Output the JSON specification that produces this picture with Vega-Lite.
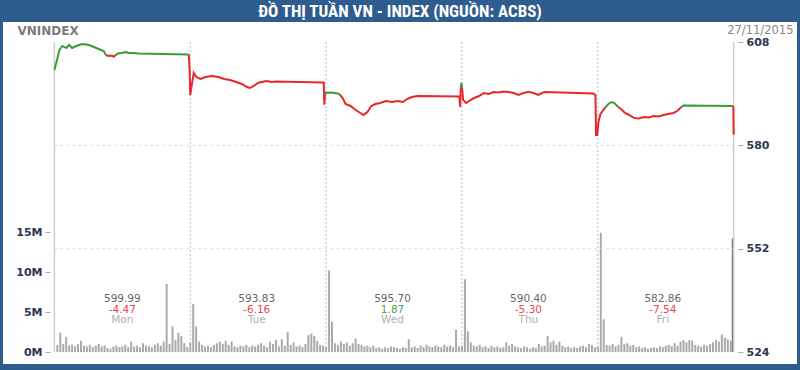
{
  "$schema": "https://vega.github.io/schema/vega-lite/v6.json",
  "autosize": {"type": "none"},
  "padding": {"left": 3, "top": 22, "right": 3, "bottom": 6},
  "width": 794,
  "height": 342,
  "background": "#2f5c8f",
  "config": {"view": {"stroke": null, "fill": "white"}},
  "title": {"text": "ĐỒ THỊ TUẦN VN - INDEX (NGUỒN: ACBS)", "color": "white", "font": "Liberation Sans Narrow, Roboto Condensed, Liberation Sans", "fontSize": 17, "fontWeight": "bold", "anchor": "middle", "baseline": "middle", "offset": -7},
  "datasets": {
    "vol": [
      {"k":1,"v":0.9},{"k":2,"v":2.4},{"k":3,"v":1.0},{"k":4,"v":1.9},{"k":5,"v":0.8},{"k":6,"v":0.9},{"k":7,"v":0.7},{"k":8,"v":1.0},{"k":9,"v":1.4},{"k":10,"v":0.8},
      {"k":11,"v":0.7},{"k":12,"v":0.9},{"k":13,"v":0.6},{"k":14,"v":0.8},{"k":15,"v":1.0},{"k":16,"v":0.7},{"k":17,"v":0.8},{"k":18,"v":0.5},{"k":19,"v":0.4},{"k":20,"v":0.7},
      {"k":21,"v":0.8},{"k":22,"v":0.6},{"k":23,"v":0.7},{"k":24,"v":0.9},{"k":25,"v":0.6},{"k":26,"v":1.3},{"k":27,"v":0.7},{"k":28,"v":0.8},{"k":29,"v":0.6},{"k":30,"v":1.1},
      {"k":31,"v":0.8},{"k":32,"v":0.7},{"k":33,"v":0.6},{"k":34,"v":0.9},{"k":35,"v":1.1},{"k":36,"v":0.8},{"k":37,"v":1.3},{"k":38,"v":8.5},{"k":39,"v":1.0},{"k":40,"v":3.2},
      {"k":41,"v":1.5},{"k":42,"v":2.4},{"k":43,"v":2.0},{"k":44,"v":1.1},{"k":45,"v":0.6},
      {"k":46,"v":1.2},{"k":47,"v":6.0},{"k":48,"v":3.2},{"k":49,"v":1.3},{"k":50,"v":0.9},{"k":51,"v":0.7},{"k":52,"v":0.8},{"k":53,"v":0.6},{"k":54,"v":0.9},{"k":55,"v":1.1},
      {"k":56,"v":1.3},{"k":57,"v":1.0},{"k":58,"v":1.4},{"k":59,"v":0.9},{"k":60,"v":1.3},{"k":61,"v":0.7},{"k":62,"v":0.6},{"k":63,"v":0.8},{"k":64,"v":0.7},{"k":65,"v":0.9},
      {"k":66,"v":0.6},{"k":67,"v":0.8},{"k":68,"v":0.7},{"k":69,"v":0.9},{"k":70,"v":1.1},{"k":71,"v":0.8},{"k":72,"v":0.6},{"k":73,"v":1.3},{"k":74,"v":1.0},{"k":75,"v":1.5},
      {"k":76,"v":0.7},{"k":77,"v":1.6},{"k":78,"v":0.8},{"k":79,"v":2.5},{"k":80,"v":0.9},{"k":81,"v":1.2},{"k":82,"v":0.7},{"k":83,"v":0.8},{"k":84,"v":0.6},{"k":85,"v":1.0},
      {"k":86,"v":2.1},{"k":87,"v":2.3},{"k":88,"v":2.0},{"k":89,"v":1.4},{"k":90,"v":0.9},{"k":91,"v":0.8},
      {"k":92,"v":0.6},{"k":93,"v":10.2},{"k":94,"v":3.8},{"k":95,"v":1.1},{"k":96,"v":0.9},{"k":97,"v":1.3},{"k":98,"v":1.0},{"k":99,"v":1.2},{"k":100,"v":0.8},{"k":101,"v":1.1},
      {"k":102,"v":1.7},{"k":103,"v":1.0},{"k":104,"v":0.9},{"k":105,"v":0.7},{"k":106,"v":0.8},{"k":107,"v":0.6},{"k":108,"v":0.8},{"k":109,"v":0.5},{"k":110,"v":0.6},{"k":111,"v":0.4},
      {"k":112,"v":0.6},{"k":113,"v":0.5},{"k":114,"v":0.7},{"k":115,"v":0.6},{"k":116,"v":0.5},{"k":117,"v":0.4},{"k":118,"v":0.6},{"k":119,"v":0.5},{"k":120,"v":1.6},{"k":121,"v":0.6},
      {"k":122,"v":0.7},{"k":123,"v":0.5},{"k":124,"v":0.8},{"k":125,"v":0.6},{"k":126,"v":0.9},{"k":127,"v":0.7},{"k":128,"v":0.6},{"k":129,"v":0.8},{"k":130,"v":0.7},{"k":131,"v":0.6},
      {"k":132,"v":0.9},{"k":133,"v":0.7},{"k":134,"v":0.8},{"k":135,"v":0.6},{"k":136,"v":2.8},{"k":137,"v":0.7},
      {"k":138,"v":0.8},{"k":139,"v":9.1},{"k":140,"v":2.6},{"k":141,"v":1.2},{"k":142,"v":0.8},{"k":143,"v":0.7},{"k":144,"v":0.9},{"k":145,"v":0.6},{"k":146,"v":0.7},{"k":147,"v":0.5},
      {"k":148,"v":0.8},{"k":149,"v":0.6},{"k":150,"v":0.7},{"k":151,"v":0.5},{"k":152,"v":0.6},{"k":153,"v":1.2},{"k":154,"v":0.8},{"k":155,"v":1.0},{"k":156,"v":0.7},{"k":157,"v":0.6},
      {"k":158,"v":0.5},{"k":159,"v":0.7},{"k":160,"v":0.6},{"k":161,"v":0.4},{"k":162,"v":0.6},{"k":163,"v":0.5},{"k":164,"v":1.0},{"k":165,"v":0.7},{"k":166,"v":0.8},{"k":167,"v":2.0},
      {"k":168,"v":1.2},{"k":169,"v":1.4},{"k":170,"v":0.9},{"k":171,"v":1.3},{"k":172,"v":0.8},{"k":173,"v":0.6},{"k":174,"v":0.7},{"k":175,"v":0.5},{"k":176,"v":0.6},{"k":177,"v":0.5},
      {"k":178,"v":0.7},{"k":179,"v":0.8},{"k":180,"v":0.6},{"k":181,"v":1.0},{"k":182,"v":0.9},{"k":183,"v":0.6},
      {"k":184,"v":0.7},{"k":185,"v":14.9},{"k":186,"v":4.1},{"k":187,"v":0.9},{"k":188,"v":0.8},{"k":189,"v":1.0},{"k":190,"v":0.7},{"k":191,"v":0.9},{"k":192,"v":1.9},{"k":193,"v":1.0},
      {"k":194,"v":1.1},{"k":195,"v":0.8},{"k":196,"v":0.9},{"k":197,"v":0.6},{"k":198,"v":0.7},{"k":199,"v":0.5},{"k":200,"v":0.6},{"k":201,"v":0.4},{"k":202,"v":0.5},{"k":203,"v":0.6},
      {"k":204,"v":0.5},{"k":205,"v":0.7},{"k":206,"v":0.6},{"k":207,"v":0.8},{"k":208,"v":0.9},{"k":209,"v":0.7},{"k":210,"v":1.1},{"k":211,"v":0.8},{"k":212,"v":1.3},{"k":213,"v":1.5},
      {"k":214,"v":1.2},{"k":215,"v":1.5},{"k":216,"v":1.4},{"k":217,"v":0.9},{"k":218,"v":0.8},{"k":219,"v":0.7},{"k":220,"v":0.9},{"k":221,"v":0.8},{"k":222,"v":1.0},{"k":223,"v":1.2},
      {"k":224,"v":1.5},{"k":225,"v":1.3},{"k":226,"v":2.2},{"k":227,"v":1.8},{"k":228,"v":1.6},{"k":229,"v":1.4},{"k":229.7,"v":14.2}
    ],
    "price": [
      {"k":0,"p":600.41,"s":1,"d":"up"},{"k":0.7,"p":602.58,"s":1,"d":"up"},{"k":1.7,"p":605.83,"s":1,"d":"up"},{"k":2.7,"p":606.92,"s":1,"d":"up"},{"k":4.0,"p":606.37,"s":1,"d":"up"},
      {"k":5.0,"p":607.19,"s":1,"d":"up"},{"k":6.0,"p":606.37,"s":1,"d":"up"},{"k":7.4,"p":606.92,"s":1,"d":"up"},{"k":9.4,"p":607.46,"s":1,"d":"up"},{"k":11.7,"p":607.19,"s":1,"d":"up"},
      {"k":13.4,"p":606.64,"s":1,"d":"up"},{"k":15.0,"p":606.10,"s":1,"d":"up"},{"k":16.7,"p":605.56,"s":1,"d":"up"},{"k":17.4,"p":604.46,"s":1,"d":"up"},
      {"k":17.4,"p":604.46,"s":2,"d":"down"},{"k":18.4,"p":604.21,"s":2,"d":"down"},{"k":19.4,"p":604.34,"s":2,"d":"down"},{"k":20.1,"p":604.0,"s":2,"d":"down"},{"k":20.7,"p":604.46,"s":2,"d":"down"},
      {"k":20.7,"p":604.46,"s":3,"d":"up"},{"k":21.5,"p":604.9,"s":3,"d":"up"},{"k":22.7,"p":605.02,"s":3,"d":"up"},{"k":24.1,"p":605.29,"s":3,"d":"up"},{"k":25.1,"p":605.02,"s":3,"d":"up"},
      {"k":26.7,"p":605.02,"s":3,"d":"up"},{"k":28.4,"p":604.88,"s":3,"d":"up"},{"k":45.5,"p":604.61,"s":3,"d":"up"},
      {"k":45.5,"p":604.61,"s":4,"d":"down"},{"k":45.8,"p":599.99,"s":4,"d":"down"},{"k":46.0,"p":593.64,"s":4,"d":"down"},{"k":46.5,"p":596.35,"s":4,"d":"down"},{"k":47.2,"p":599.60,"s":4,"d":"down"},
      {"k":48.1,"p":598.51,"s":4,"d":"down"},{"k":49.5,"p":597.97,"s":4,"d":"down"},{"k":51.1,"p":598.51,"s":4,"d":"down"},{"k":53.5,"p":598.79,"s":4,"d":"down"},{"k":55.5,"p":598.51,"s":4,"d":"down"},
      {"k":57.5,"p":597.97,"s":4,"d":"down"},{"k":59.5,"p":597.70,"s":4,"d":"down"},{"k":61.5,"p":597.16,"s":4,"d":"down"},{"k":63.5,"p":596.62,"s":4,"d":"down"},{"k":65.2,"p":595.80,"s":4,"d":"down"},
      {"k":66.2,"p":595.53,"s":4,"d":"down"},{"k":67.5,"p":596.08,"s":4,"d":"down"},{"k":68.9,"p":596.89,"s":4,"d":"down"},{"k":70.2,"p":597.16,"s":4,"d":"down"},{"k":71.9,"p":597.43,"s":4,"d":"down"},
      {"k":73.5,"p":597.16,"s":4,"d":"down"},{"k":75.2,"p":597.30,"s":4,"d":"down"},{"k":90.9,"p":597.02,"s":4,"d":"down"},{"k":91.2,"p":597.0,"s":4,"d":"down"},{"k":91.4,"p":591.0,"s":4,"d":"down"},
      {"k":91.6,"p":593.83,"s":4,"d":"down"},
      {"k":91.6,"p":593.83,"s":5,"d":"up"},{"k":91.8,"p":594.18,"s":5,"d":"up"},{"k":93.6,"p":594.3,"s":5,"d":"up"},{"k":96.0,"p":594.04,"s":5,"d":"up"},{"k":96.6,"p":593.83,"s":5,"d":"up"},
      {"k":96.6,"p":593.83,"s":6,"d":"down"},{"k":97.6,"p":592.82,"s":6,"d":"down"},{"k":98.6,"p":591.20,"s":6,"d":"down"},{"k":100.3,"p":590.66,"s":6,"d":"down"},{"k":102.0,"p":589.57,"s":6,"d":"down"},
      {"k":103.6,"p":588.76,"s":6,"d":"down"},{"k":104.6,"p":588.22,"s":6,"d":"down"},{"k":106.0,"p":589.03,"s":6,"d":"down"},{"k":107.3,"p":590.66,"s":6,"d":"down"},{"k":108.7,"p":591.20,"s":6,"d":"down"},
      {"k":110.3,"p":591.47,"s":6,"d":"down"},{"k":112.3,"p":592.01,"s":6,"d":"down"},{"k":114.3,"p":591.74,"s":6,"d":"down"},{"k":116.3,"p":592.01,"s":6,"d":"down"},{"k":118.0,"p":591.74,"s":6,"d":"down"},
      {"k":119.4,"p":592.55,"s":6,"d":"down"},{"k":121.0,"p":593.09,"s":6,"d":"down"},{"k":123.0,"p":593.36,"s":6,"d":"down"},{"k":137.1,"p":593.23,"s":6,"d":"down"},{"k":137.4,"p":590.4,"s":6,"d":"down"},
      {"k":137.6,"p":595.70,"s":6,"d":"down"},
      {"k":137.6,"p":595.70,"s":7,"d":"up"},{"k":137.8,"p":596.9,"s":7,"d":"up"},{"k":138.0,"p":595.70,"s":7,"d":"up"},
      {"k":138.0,"p":595.70,"s":8,"d":"down"},{"k":138.4,"p":592.28,"s":8,"d":"down"},{"k":139.4,"p":591.47,"s":8,"d":"down"},{"k":140.4,"p":592.01,"s":8,"d":"down"},{"k":142.1,"p":592.82,"s":8,"d":"down"},
      {"k":143.8,"p":593.36,"s":8,"d":"down"},{"k":145.4,"p":594.18,"s":8,"d":"down"},{"k":147.1,"p":593.91,"s":8,"d":"down"},{"k":148.8,"p":594.45,"s":8,"d":"down"},{"k":150.4,"p":594.31,"s":8,"d":"down"},
      {"k":152.1,"p":594.59,"s":8,"d":"down"},{"k":153.8,"p":594.45,"s":8,"d":"down"},{"k":155.5,"p":594.18,"s":8,"d":"down"},{"k":157.1,"p":593.64,"s":8,"d":"down"},{"k":158.8,"p":594.18,"s":8,"d":"down"},
      {"k":160.5,"p":594.53,"s":8,"d":"down"},{"k":162.2,"p":594.18,"s":8,"d":"down"},{"k":163.8,"p":593.64,"s":8,"d":"down"},{"k":165.5,"p":594.31,"s":8,"d":"down"},{"k":166.2,"p":594.45,"s":8,"d":"down"},
      {"k":182.5,"p":594.04,"s":8,"d":"down"},{"k":183.2,"p":593.64,"s":8,"d":"down"},{"k":183.4,"p":582.80,"s":8,"d":"down"},{"k":183.8,"p":582.80,"s":8,"d":"down"},{"k":184.2,"p":586.32,"s":8,"d":"down"},
      {"k":184.9,"p":588.49,"s":8,"d":"down"},{"k":185.9,"p":589.57,"s":8,"d":"down"},{"k":186.6,"p":590.40,"s":8,"d":"down"},
      {"k":186.6,"p":590.40,"s":9,"d":"up"},{"k":187.6,"p":591.20,"s":9,"d":"up"},{"k":188.6,"p":591.74,"s":9,"d":"up"},{"k":189.6,"p":591.47,"s":9,"d":"up"},{"k":190.6,"p":590.66,"s":9,"d":"up"},
      {"k":190.9,"p":590.40,"s":9,"d":"up"},
      {"k":190.9,"p":590.40,"s":10,"d":"down"},{"k":192.2,"p":589.57,"s":10,"d":"down"},{"k":193.2,"p":588.76,"s":10,"d":"down"},{"k":194.6,"p":588.22,"s":10,"d":"down"},{"k":196.3,"p":587.40,"s":10,"d":"down"},
      {"k":197.9,"p":587.27,"s":10,"d":"down"},{"k":199.6,"p":587.67,"s":10,"d":"down"},{"k":201.3,"p":587.54,"s":10,"d":"down"},{"k":202.9,"p":587.95,"s":10,"d":"down"},{"k":204.6,"p":587.81,"s":10,"d":"down"},
      {"k":206.3,"p":588.22,"s":10,"d":"down"},{"k":207.9,"p":588.49,"s":10,"d":"down"},{"k":209.6,"p":588.76,"s":10,"d":"down"},{"k":210.9,"p":589.30,"s":10,"d":"down"},{"k":211.9,"p":590.11,"s":10,"d":"down"},
      {"k":212.3,"p":590.40,"s":10,"d":"down"},
      {"k":212.3,"p":590.40,"s":11,"d":"up"},{"k":213.0,"p":590.79,"s":11,"d":"up"},{"k":229.7,"p":590.66,"s":11,"d":"up"},
      {"k":229.7,"p":590.66,"s":12,"d":"down"},{"k":229.9,"p":590.40,"s":12,"d":"down"},{"k":230.0,"p":582.86,"s":12,"d":"down"}
    ],
    "days": [
      {"k":23,"day":"Mon","close":"599.99","chg":"-4.47"},
      {"k":68.5,"day":"Tue","close":"593.83","chg":"-6.16"},
      {"k":114.5,"day":"Wed","close":"595.70","chg":"1.87"},
      {"k":160.5,"day":"Thu","close":"590.40","chg":"-5.30"},
      {"k":206,"day":"Fri","close":"582.86","chg":"-7.54"}
    ],
    "bounds": [
      {"k":46},{"k":92},{"k":138},{"k":184}
    ],
    "edges": [
      {"k":0},{"k":230}
    ],
    "grid": [
      {"g":580},{"g":552}
    ]
  },
  "layer": [
    {
      "layer": [
        {
          "data": {"name": "vol"},
          "mark": {"type": "bar", "size": 2},
          "encoding": {
            "x": {"field": "k", "type": "quantitative", "scale": {"domain": [-15.71, 249.75], "nice": false, "zero": false}, "axis": null},
            "y": {"field": "v", "type": "quantitative", "title": "VNINDEX",
                  "scale": {"domain": [-1.5, 41.25], "nice": false, "zero": false},
                  "axis": {"orient": "left", "offset": -47, "values": [0, 5, 10, 15], "labelExpr": "datum.value + 'M'", "domain": false, "grid": false,
                           "tickSize": 5, "tickColor": "#aaaaaa", "labelFont": "DejaVu Sans", "labelFontWeight": "bold", "labelFontSize": 11, "labelColor": "#2b3550", "labelPadding": 3,
                           "titleAngle": 0, "titleX": -33, "titleY": 8, "titleAlign": "left", "titleBaseline": "middle", "titleColor": "#7a7a7a", "titleFontSize": 12, "titleFont": "DejaVu Sans", "titleFontWeight": "bold"}},
            "y2": {"datum": 0},
            "color": {"condition": {"test": "datum.k > 229.5", "value": "#777777"}, "value": "#aaaaaa"}
          }
        },
        {
          "data": {"name": "days"},
          "mark": {"type": "text", "font": "DejaVu Sans", "fontSize": 10.5, "color": "#666666", "baseline": "middle"},
          "encoding": {
            "x": {"field": "k", "type": "quantitative"},
            "y": {"datum": 6.6, "title": "VNINDEX"},
            "text": {"field": "close", "type": "nominal"}
          }
        },
        {
          "data": {"name": "days"},
          "mark": {"type": "text", "font": "DejaVu Sans", "fontSize": 10.5, "baseline": "middle"},
          "encoding": {
            "x": {"field": "k", "type": "quantitative"},
            "y": {"datum": 5.3, "title": "VNINDEX"},
            "text": {"field": "chg", "type": "nominal"},
            "color": {"condition": {"test": "toNumber(datum.chg) < 0", "value": "#e8474b"}, "value": "#4fa34f"}
          }
        },
        {
          "data": {"name": "days"},
          "mark": {"type": "text", "font": "DejaVu Sans", "fontSize": 10.5, "color": "#b0b0b0", "baseline": "middle"},
          "encoding": {
            "x": {"field": "k", "type": "quantitative"},
            "y": {"datum": 3.95, "title": "VNINDEX"},
            "text": {"field": "day", "type": "nominal"}
          }
        }
      ]
    },
    {
      "layer": [
        {
          "data": {"name": "grid"},
          "mark": {"type": "rule", "color": "#dddddd", "strokeDash": [3, 3], "strokeWidth": 1},
          "encoding": {
            "x": {"datum": 0, "type": "quantitative"},
            "x2": {"datum": 230},
            "y": {"field": "g", "type": "quantitative", "title": "27/11/2015"}
          }
        },
        {
          "data": {"name": "bounds"},
          "mark": {"type": "rule", "color": "#bbbbbb", "strokeDash": [2, 2], "strokeWidth": 1},
          "encoding": {
            "x": {"field": "k", "type": "quantitative"},
            "y": {"datum": 524, "type": "quantitative", "title": "27/11/2015"},
            "y2": {"datum": 608}
          }
        },
        {
          "data": {"name": "edges"},
          "mark": {"type": "rule", "color": "#cccccc", "strokeWidth": 1.5},
          "encoding": {
            "x": {"field": "k", "type": "quantitative"},
            "y": {"datum": 524, "type": "quantitative", "title": "27/11/2015"},
            "y2": {"datum": 608}
          }
        },
        {
          "data": {"name": "price"},
          "mark": {"type": "line", "strokeWidth": 2},
          "encoding": {
            "x": {"field": "k", "type": "quantitative"},
            "y": {"field": "p", "type": "quantitative", "title": "27/11/2015",
                  "scale": {"domain": [520.75, 613.42], "nice": false, "zero": false},
                  "axis": {"orient": "right", "offset": -59, "values": [524, 552, 580, 608], "domain": false, "grid": false,
                           "tickSize": 5, "tickColor": "#aaaaaa", "labelFont": "DejaVu Sans", "labelFontWeight": "bold", "labelFontSize": 11, "labelColor": "#2b3550", "labelPadding": 3,
                           "titleAngle": 0, "titleX": 55, "titleY": 8, "titleAlign": "right", "titleBaseline": "middle", "titleColor": "#888888", "titleFontSize": 11.5, "titleFont": "DejaVu Sans", "titleFontWeight": "normal"}},
            "detail": {"field": "s", "type": "nominal"},
            "order": {"field": "k", "type": "quantitative"},
            "color": {"field": "d", "type": "nominal", "scale": {"domain": ["up", "down"], "range": ["#3a9a3a", "#e8262c"]}, "legend": null}
          }
        }
      ]
    }
  ],
  "resolve": {"scale": {"y": "independent"}, "axis": {"y": "independent"}}
}
